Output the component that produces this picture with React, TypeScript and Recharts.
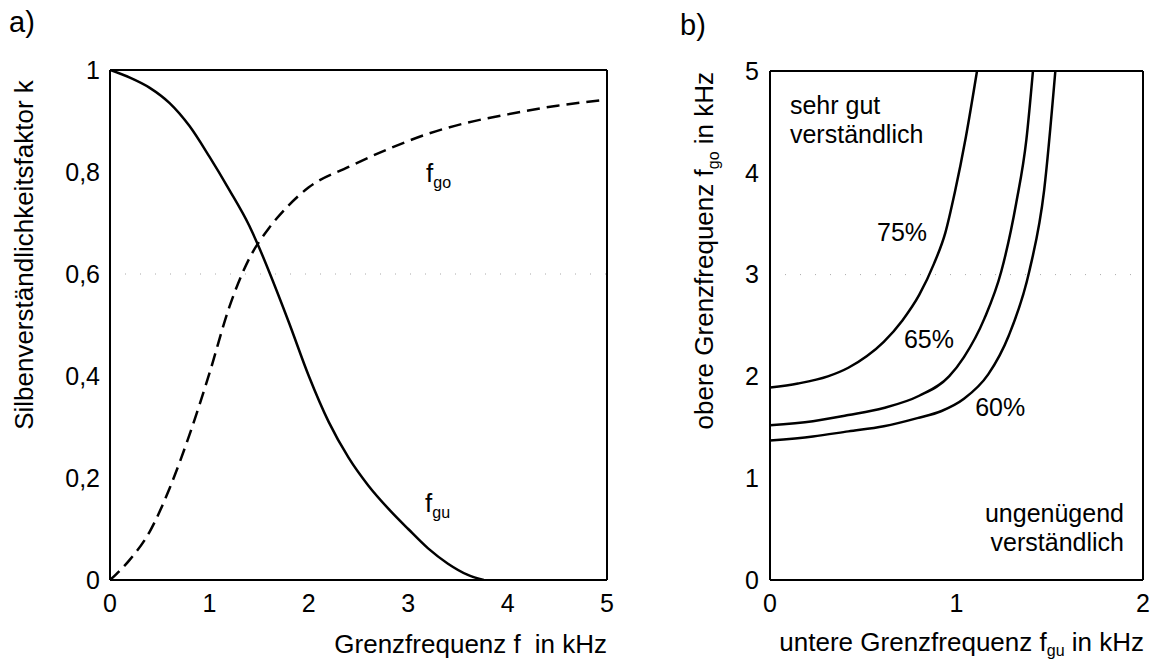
import React from "react"
import { LineChart, Line, XAxis, YAxis, ReferenceLine, ReferenceDot } from "recharts"

// a) Silbenverständlichkeit über Grenzfrequenz
const fguX = [0, 0.2, 0.4, 0.6, 0.8, 1.0, 1.2, 1.4, 1.5, 1.6, 1.8, 2.0, 2.2, 2.4, 2.6, 2.8, 3.0, 3.2, 3.4, 3.6, 3.76]
const fguK = [1.0, 0.985, 0.965, 0.935, 0.89, 0.83, 0.765, 0.695, 0.652, 0.605, 0.505, 0.4, 0.31, 0.24, 0.185, 0.14, 0.1, 0.062, 0.032, 0.01, 0]
const fgoX = [0, 0.2, 0.4, 0.6, 0.8, 1.0, 1.2, 1.4, 1.6, 1.8, 2.0, 2.4, 2.8, 3.2, 3.6, 4.0, 4.5, 5.0]
const fgoK = [0, 0.04, 0.095, 0.18, 0.285, 0.405, 0.535, 0.63, 0.69, 0.735, 0.77, 0.81, 0.845, 0.875, 0.897, 0.913, 0.93, 0.942]
const ticksA_x = [0, 1, 2, 3, 4, 5]
const ticksA_y = [0, 0.2, 0.4, 0.6, 0.8, 1]

// b) Kurven gleicher Verständlichkeit
const c75X = [0, 0.15, 0.31, 0.42, 0.52, 0.61, 0.71, 0.8, 0.88, 0.94, 0.99, 1.05, 1.11]
const c75Y = [1.89, 1.93, 2.0, 2.085, 2.2, 2.34, 2.55, 2.8, 3.11, 3.41, 3.8, 4.35, 5.0]
const c65X = [0, 0.23, 0.42, 0.61, 0.8, 0.96, 1.04, 1.15, 1.24, 1.32, 1.375, 1.41]
const c65Y = [1.52, 1.56, 1.62, 1.69, 1.81, 2.0, 2.19, 2.57, 3.03, 3.7, 4.33, 5.0]
const c60X = [0, 0.23, 0.42, 0.61, 0.79, 0.92, 1.04, 1.17, 1.28, 1.39, 1.47, 1.53]
const c60Y = [1.37, 1.41, 1.46, 1.51, 1.59, 1.66, 1.78, 2.02, 2.4, 3.03, 3.83, 5.0]
const ticksB_x = [0, 1, 2]
const ticksB_y = [0, 1, 2, 3, 4, 5]

const zip = (xs: number[], ys: number[]) => xs.map((x, i) => ({ x, y: ys[i] }))

const FONT = "'Liberation Sans', Arial, sans-serif"
const tickStyle = { fontSize: 25, fill: "#000", fontFamily: FONT }
const comma = (v: number) => String(v).replace(".", ",")

const textLabel = (txt: string, anchor: "start" | "end" = "start") => (props: any) => {
  const vb = props.viewBox || {}
  return (
    <text x={vb.x} y={vb.y} textAnchor={anchor} fontSize={25} fontFamily={FONT} fill="#000">
      {txt}
    </text>
  )
}

const subLabel = (sub: string) => (props: any) => {
  const vb = props.viewBox || {}
  return (
    <text x={vb.x} y={vb.y} fontSize={26} fontFamily={FONT} fill="#000">
      f<tspan fontSize={16} dy={6}>{sub}</tspan>
    </text>
  )
}

function ChartA() {
  return (
    <LineChart width={640} height={667} margin={{ top: 70, right: 33, bottom: 57, left: 50 }}>
      <XAxis type="number" dataKey="x" domain={[0, 5]} ticks={ticksA_x} height={30}
        tickLine={false} tickSize={0} tickMargin={14} tick={tickStyle}
        axisLine={{ stroke: "#000", strokeWidth: 2 }} allowDataOverflow />
      <YAxis type="number" domain={[0, 1]} ticks={ticksA_y} width={60}
        tickLine={false} tickSize={0} tickMargin={10} tick={tickStyle} tickFormatter={comma}
        axisLine={{ stroke: "#000", strokeWidth: 2 }} allowDataOverflow />
      <ReferenceLine y={0.6} stroke="#aaa" strokeDasharray="1 14" />
      <ReferenceLine y={1} stroke="#000" strokeWidth={2} />
      <ReferenceLine x={5} stroke="#000" strokeWidth={2} />
      <Line data={zip(fguX, fguK)} dataKey="y" type="monotone" stroke="#000" strokeWidth={2.5}
        dot={false} isAnimationActive={false} />
      <Line data={zip(fgoX, fgoK)} dataKey="y" type="monotone" stroke="#000" strokeWidth={2.5}
        strokeDasharray="13 7" dot={false} isAnimationActive={false} />
      <ReferenceDot x={3.18} y={0.78} r={0} fill="none" stroke="none" label={subLabel("go")} />
      <ReferenceDot x={3.17} y={0.134} r={0} fill="none" stroke="none" label={subLabel("gu")} />
    </LineChart>
  )
}

function ChartB() {
  return (
    <LineChart width={517} height={667} margin={{ top: 71, right: 14, bottom: 57, left: 70 }}>
      <XAxis type="number" dataKey="x" domain={[0, 2]} ticks={ticksB_x} height={30}
        tickLine={false} tickSize={0} tickMargin={14} tick={tickStyle}
        axisLine={{ stroke: "#000", strokeWidth: 2 }} allowDataOverflow />
      <YAxis type="number" domain={[0, 5]} ticks={ticksB_y} width={60}
        tickLine={false} tickSize={0} tickMargin={11} tick={tickStyle}
        axisLine={{ stroke: "#000", strokeWidth: 2 }} allowDataOverflow />
      <ReferenceLine y={3} stroke="#aaa" strokeDasharray="1 14" />
      <ReferenceLine y={5} stroke="#000" strokeWidth={2} />
      <ReferenceLine x={2} stroke="#000" strokeWidth={2} />
      <Line data={zip(c75X, c75Y)} dataKey="y" type="monotone" stroke="#000" strokeWidth={2.5}
        dot={false} isAnimationActive={false} />
      <Line data={zip(c65X, c65Y)} dataKey="y" type="monotone" stroke="#000" strokeWidth={2.5}
        dot={false} isAnimationActive={false} />
      <Line data={zip(c60X, c60Y)} dataKey="y" type="monotone" stroke="#000" strokeWidth={2.5}
        dot={false} isAnimationActive={false} />
      <ReferenceDot x={0.107} y={4.58} r={0} fill="none" stroke="none" label={textLabel("sehr gut")} />
      <ReferenceDot x={0.107} y={4.29} r={0} fill="none" stroke="none" label={textLabel("verständlich")} />
      <ReferenceDot x={0.574} y={3.33} r={0} fill="none" stroke="none" label={textLabel("75%")} />
      <ReferenceDot x={0.718} y={2.28} r={0} fill="none" stroke="none" label={textLabel("65%")} />
      <ReferenceDot x={1.1} y={1.61} r={0} fill="none" stroke="none" label={textLabel("60%")} />
      <ReferenceDot x={1.898} y={0.57} r={0} fill="none" stroke="none" label={textLabel("ungenügend", "end")} />
      <ReferenceDot x={1.898} y={0.28} r={0} fill="none" stroke="none" label={textLabel("verständlich", "end")} />
    </LineChart>
  )
}

export default function App() {
  return (
    <div style={{ position: "absolute", left: 0, top: 0, width: 1157, height: 667, background: "#fff" }}>
      <div style={{ position: "absolute", left: 0, top: 0 }}>
        <ChartA />
      </div>
      <div style={{ position: "absolute", left: 640, top: 0 }}>
        <ChartB />
      </div>
      <svg width={1157} height={667} style={{ position: "absolute", left: 0, top: 0, pointerEvents: "none" }}
        fontFamily={FONT} fill="#000">
        <text x={9} y={32} fontSize={29}>a)</text>
        <text x={680} y={35} fontSize={29}>b)</text>
        <text transform="translate(33,255) rotate(-90)" textAnchor="middle" fontSize={26}>
          Silbenverständlichkeitsfaktor k
        </text>
        <text x={607} y={653} textAnchor="end" fontSize={26}>
          Grenzfrequenz f<tspan dx={14}>in kHz</tspan>
        </text>
        <text transform="translate(713,72) rotate(-90)" textAnchor="end" fontSize={26}>
          obere Grenzfrequenz f<tspan fontSize={16} dy={6}>go</tspan><tspan dy={-6}> in kHz</tspan>
        </text>
        <text x={1144} y={651} textAnchor="end" fontSize={26}>
          untere Grenzfrequenz f<tspan fontSize={16} dy={5}>gu</tspan><tspan dy={-5}> in kHz</tspan>
        </text>
      </svg>
    </div>
  )
}
